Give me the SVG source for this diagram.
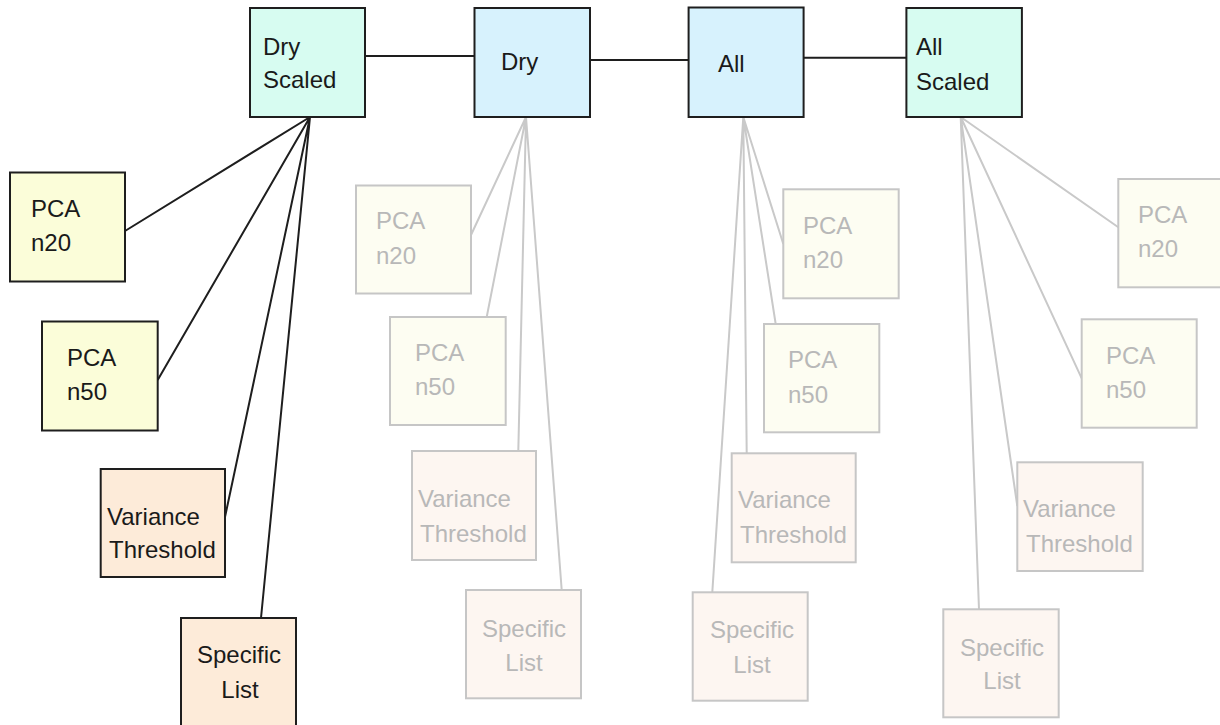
<svg xmlns="http://www.w3.org/2000/svg" width="1220" height="725" viewBox="0 0 1220 725">
<style>
text{font-family:"Liberation Sans",Arial,sans-serif;font-size:24px;fill:#1a1a1a}
.mid{text-anchor:middle}
.box{stroke:#1e1e1e;stroke-width:2}
.fbox{stroke:#c6c6c6;stroke-width:2}
.scaled{fill:#d7fcf1}
.base{fill:#d7f2fd}
.pca{fill:#fbfdd9}
.sel{fill:#fdebd9}
.fpca{fill:#fdfdf2}
.fsel{fill:#fdf6f1}
.faded text{fill:#b8b8b8}
.dl{stroke:#1e1e1e;stroke-width:2;fill:none}
.fl{stroke:#c9c9c9;stroke-width:2;fill:none}
</style>
<rect width="1220" height="725" fill="#ffffff"/>
<g id="connectors">
<path class="dl" d="M365,56H474.5M590,60H688.6M803.6,57.7H906.4"/>
<path class="dl" d="M310,117L125,231M310,117L157.7,380M310,117L225,517M310,117L261,618"/>
<path class="fl" d="M526,117L471,235M526,117L486.7,317M526,117L518.3,451M526,117L561.7,590"/>
<path class="fl" d="M743.3,117L783.3,244M743.3,117L775.7,324M743.3,117L746.7,453.3M743.3,117L712.3,592.3"/>
<path class="fl" d="M960.7,117L1118.3,227.3M960.7,117L1081.7,378.3M960.7,117L1017.3,506M960.7,117L979,609.3"/>
</g>
<g id="dry-scaled"><rect class="box scaled" x="250" y="8" width="115" height="109"/><text x="263" y="54.5">Dry</text><text x="263" y="88.3">Scaled</text></g>
<g id="dry"><rect class="box base" x="474.5" y="8" width="115.5" height="109"/><text x="501" y="70">Dry</text></g>
<g id="all"><rect class="box base" x="688.6" y="7.5" width="115" height="109.5"/><text x="718" y="71.7">All</text></g>
<g id="all-scaled"><rect class="box scaled" x="906.4" y="8" width="115.5" height="109"/><text x="916" y="55">All</text><text x="916" y="90">Scaled</text></g>
<g id="ds-pca20"><rect class="box pca" x="10" y="172.5" width="115" height="109"/><text x="31" y="217">PCA</text><text x="31" y="251">n20</text></g>
<g id="ds-pca50"><rect class="box pca" x="42" y="321.5" width="115.7" height="109"/><text x="67" y="366">PCA</text><text x="67" y="400">n50</text></g>
<g id="ds-var"><rect class="box sel" x="100.7" y="469" width="124.3" height="108"/><text x="107" y="525">Variance</text><text x="109" y="558">Threshold</text></g>
<g id="ds-spec"><rect class="box sel" x="181" y="618" width="115" height="108"/><text class="mid" x="239" y="663">Specific</text><text class="mid" x="240" y="698">List</text></g>
<g class="faded">
<g id="d-pca20"><rect class="fbox fpca" x="356" y="185.5" width="115" height="108"/><text x="376" y="229">PCA</text><text x="376" y="264">n20</text></g>
<g id="d-pca50"><rect class="fbox fpca" x="390" y="317" width="115.7" height="108"/><text x="415" y="361">PCA</text><text x="415" y="395">n50</text></g>
<g id="d-var"><rect class="fbox fsel" x="412" y="451" width="124" height="109"/><text x="418" y="507">Variance</text><text x="420" y="542">Threshold</text></g>
<g id="d-spec"><rect class="fbox fsel" x="466" y="590" width="115" height="108.3"/><text class="mid" x="524" y="637">Specific</text><text class="mid" x="524" y="671">List</text></g>
<g id="a-pca20"><rect class="fbox fpca" x="783.3" y="189.3" width="115.4" height="109"/><text x="803" y="234">PCA</text><text x="803" y="268">n20</text></g>
<g id="a-pca50"><rect class="fbox fpca" x="764" y="324" width="115.3" height="108.3"/><text x="788" y="368">PCA</text><text x="788" y="403">n50</text></g>
<g id="a-var"><rect class="fbox fsel" x="731.7" y="453.3" width="124" height="109"/><text x="738" y="508">Variance</text><text x="740" y="543">Threshold</text></g>
<g id="a-spec"><rect class="fbox fsel" x="692.7" y="592.3" width="115" height="108.4"/><text class="mid" x="752" y="638">Specific</text><text class="mid" x="752" y="673">List</text></g>
<g id="as-pca20"><rect class="fbox fpca" x="1118.3" y="179" width="115" height="108.3"/><text x="1138" y="223">PCA</text><text x="1138" y="257">n20</text></g>
<g id="as-pca50"><rect class="fbox fpca" x="1081.7" y="319.3" width="115" height="108.4"/><text x="1106" y="364">PCA</text><text x="1106" y="398">n50</text></g>
<g id="as-var"><rect class="fbox fsel" x="1017.3" y="462.3" width="125.4" height="108.7"/><text x="1023" y="517">Variance</text><text x="1026" y="552">Threshold</text></g>
<g id="as-spec"><rect class="fbox fsel" x="943.3" y="609.3" width="115.4" height="108"/><text class="mid" x="1002" y="656">Specific</text><text class="mid" x="1002" y="689">List</text></g>
</g>
</svg>
